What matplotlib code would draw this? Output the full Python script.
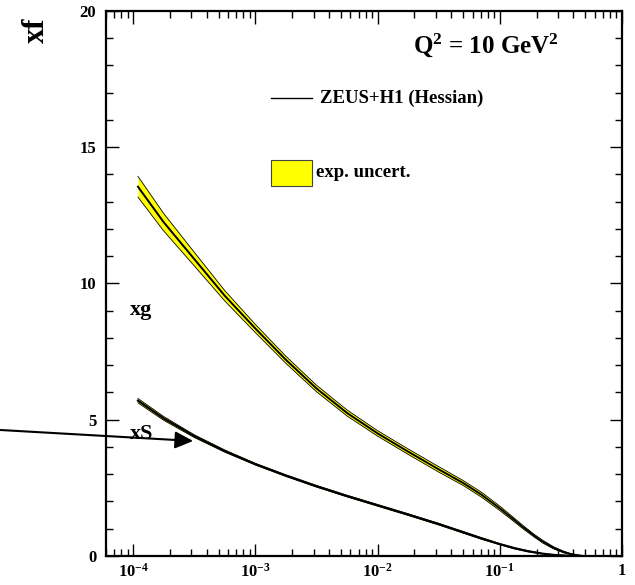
import matplotlib
matplotlib.use('Agg')
import matplotlib.pyplot as plt
from matplotlib.patches import Rectangle
from matplotlib.lines import Line2D
from matplotlib.ticker import FixedLocator, LogLocator, MultipleLocator, NullFormatter
import numpy as np

plt.rcParams['font.family'] = ['Liberation Serif', 'DejaVu Serif']
plt.rcParams['font.weight'] = 'bold'
plt.rcParams['mathtext.fontset'] = 'custom'
plt.rcParams['mathtext.rm'] = 'Liberation Serif:bold'
plt.rcParams['mathtext.it'] = 'Liberation Serif:bold'
plt.rcParams['mathtext.bf'] = 'Liberation Serif:bold'

# valeurs (log10 x)
logx_g = [-3.96, -3.75, -3.5, -3.25, -3.0, -2.75, -2.5, -2.25, -2.0, -1.75, -1.5, -1.3,
          -1.15, -1.0, -0.9, -0.81, -0.72, -0.65, -0.56, -0.48, -0.42, -0.37, -0.32]
xg = [13.55, 12.25, 10.9, 9.55, 8.35, 7.2, 6.15, 5.25, 4.5, 3.83, 3.18, 2.68,
      2.25, 1.75, 1.39, 1.06, 0.75, 0.53, 0.30, 0.15, 0.07, 0.03, 0.0]
xg_err = [0.38, 0.32, 0.25, 0.19, 0.15, 0.13, 0.12, 0.11, 0.1, 0.1, 0.1, 0.09,
          0.09, 0.08, 0.07, 0.06, 0.05, 0.05, 0.04, 0.03, 0.02, 0.02, 0.01]

logx_s = [-3.96, -3.75, -3.5, -3.25, -3.0, -2.75, -2.5, -2.25, -2.0, -1.75, -1.5, -1.3,
          -1.15, -1.0, -0.88, -0.77, -0.65, -0.55, -0.45, -0.38]
xs = [5.70, 5.05, 4.40, 3.85, 3.37, 2.95, 2.56, 2.2, 1.86, 1.52, 1.17, 0.87,
      0.645, 0.435, 0.285, 0.175, 0.085, 0.035, 0.01, 0.0]
xs_err = [0.08, 0.07, 0.05, 0.04, 0.03, 0.03, 0.03, 0.03, 0.03, 0.03, 0.03, 0.03,
          0.03, 0.02, 0.02, 0.02, 0.01, 0.01, 0.01, 0.0]

xticks = [1e-4, 1e-3, 1e-2, 1e-1, 1]
xticklabels = ['$10^{-4}$', '$10^{-3}$', '$10^{-2}$', '$10^{-1}$', '1']
yticks = [0, 5, 10, 15, 20]

YELLOW = '#ffff00'

fig = plt.figure(figsize=(6.35, 5.85), dpi=100)
ax = fig.add_axes([0.1669, 0.0496, 0.8126, 0.9316])

def bande(lx, y, err, lw_c):
    x = 10 ** np.array(lx)
    y = np.array(y)
    e = np.array(err)
    lo = np.clip(y - e, 0, None)
    hi = y + e
    ax.fill_between(x, lo, hi, color=YELLOW, lw=0, zorder=2)
    ax.plot(x, lo, color='k', lw=0.6, zorder=3)
    ax.plot(x, hi, color='k', lw=0.6, zorder=3)
    ax.plot(x, y, color='k', lw=lw_c, zorder=4)

bande(logx_g, xg, xg_err, 1.4)
bande(logx_s, xs, xs_err, 1.6)

ax.set_xscale('log')
ax.set_xlim(6e-5, 1)
ax.set_ylim(0, 20)

ax.xaxis.set_major_locator(FixedLocator(xticks))
ax.set_xticklabels(xticklabels)
ax.xaxis.set_minor_locator(LogLocator(base=10, subs=np.arange(2, 10)))
ax.xaxis.set_minor_formatter(NullFormatter())
ax.set_yticks(yticks)
ax.yaxis.set_minor_locator(MultipleLocator(1))

ax.tick_params(which='both', direction='in', top=True, right=True, width=1.0)
ax.tick_params(which='major', length=9)
ax.tick_params(which='minor', length=5)
ax.tick_params(axis='y', labelsize=12, pad=7)
ax.tick_params(axis='x', labelsize=12, pad=5)
for s in ax.spines.values():
    s.set_linewidth(1.6)

# textes
ax.text(0.595, 0.938, 'Q$^2$ = 10 GeV$^2$', transform=ax.transAxes, fontsize=18,
        fontweight='bold', va='center', ha='left')
ax.add_line(Line2D([0.320, 0.399], [0.840, 0.840], transform=ax.transAxes, color='k', lw=1.0))
ax.text(0.415, 0.840, 'ZEUS+H1 (Hessian)', transform=ax.transAxes, fontsize=13.5,
        fontweight='bold', va='center', ha='left')
ax.add_patch(Rectangle((0.320, 0.679), 0.079, 0.048, transform=ax.transAxes,
                       facecolor=YELLOW, edgecolor='#444444', lw=0.8))
ax.text(0.407, 0.703, 'exp. uncert.', transform=ax.transAxes, fontsize=13.5,
        fontweight='bold', va='center', ha='left')
ax.text(0.0465, 0.451, 'xg', transform=ax.transAxes, fontsize=16, fontweight='bold',
        va='center', ha='left')
ax.text(0.0465, 0.224, 'xS', transform=ax.transAxes, fontsize=16, fontweight='bold',
        va='center', ha='left')
fig.text(0.057, 0.949, 'xf', rotation=90, fontsize=22, fontweight='bold',
         va='center', ha='center')

ax.annotate('', xy=(3.1e-4, 4.22), xycoords='data', xytext=(0.0, 0.265),
            textcoords='figure fraction', annotation_clip=False,
            arrowprops=dict(arrowstyle='-|>,head_length=0.55,head_width=0.26',
                            color='k', lw=1.5, shrinkA=0, shrinkB=0,
                            mutation_scale=20), zorder=5)

fig.savefig('out.png', dpi=100)
